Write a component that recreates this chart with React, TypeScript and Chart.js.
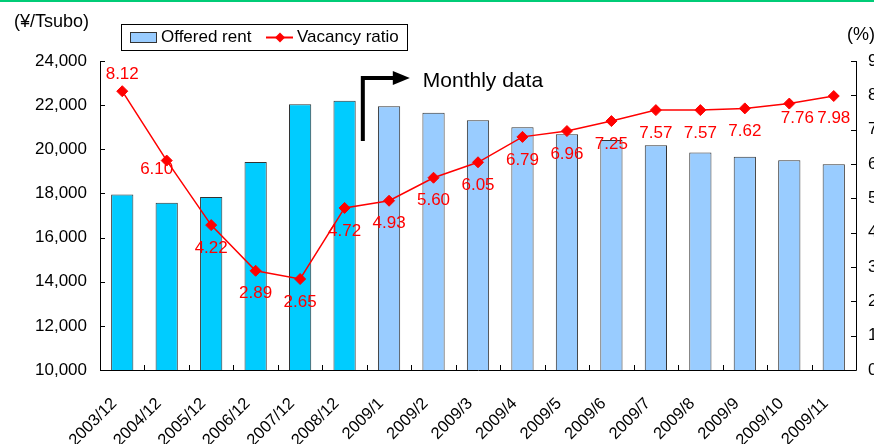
import React, { useEffect, useRef } from "react";
import { Chart, registerables } from "chart.js";

Chart.register(...registerables);

const categories = [
  "2003/12", "2004/12", "2005/12", "2006/12", "2007/12", "2008/12",
  "2009/1", "2009/2", "2009/3", "2009/4", "2009/5", "2009/6",
  "2009/7", "2009/8", "2009/9", "2009/10", "2009/11",
];
const offeredRent = [
  17950, 17580, 17840, 19420, 22040, 22200,
  21950, 21660, 21310, 21000, 20680, 20420,
  20180, 19860, 19660, 19500, 19320,
];
const vacancyRatio = [
  8.12, 6.10, 4.22, 2.89, 2.65, 4.72,
  4.93, 5.60, 6.05, 6.79, 6.96, 7.25,
  7.57, 7.57, 7.62, 7.76, 7.98,
];
const annualCount = 6;
const leftTicks = [10000, 12000, 14000, 16000, 18000, 20000, 22000, 24000];
const rightTicks = [0, 1, 2, 3, 4, 5, 6, 7, 8, 9];

// label placement (style): offsets relative to each point
const labelOffsets: [number, number][] = vacancyRatio.map((_, i) => {
  if (i === 0) return [0, -17];
  if (i === 1) return [-10, 9];
  if (i === 15) return [8, 15];
  if (i === 16) return [0, 22];
  return [0, 23];
});

const FONT = "'Liberation Sans', Arial, sans-serif";

const decorPlugin = {
  id: "decor",
  afterDatasetsDraw(chart: any) {
    const ctx = chart.ctx;
    ctx.save();
    const meta = chart.getDatasetMeta(1);
    ctx.fillStyle = "#FF0000";
    ctx.font = `17px ${FONT}`;
    ctx.textAlign = "center";
    ctx.textBaseline = "middle";
    meta.data.forEach((pt: any, i: number) => {
      const [dx, dy] = labelOffsets[i];
      ctx.fillText(vacancyRatio[i].toFixed(2), pt.x + dx, pt.y + dy);
    });
    ctx.restore();
  },
  afterDraw(chart: any) {
    const ctx = chart.ctx;
    const area = chart.chartArea;
    const xs = chart.scales.x;
    const yl = chart.scales.y;
    const yr = chart.scales.y1;
    ctx.save();
    // green top line
    ctx.fillStyle = "#00CC77";
    ctx.fillRect(0, 0, chart.width, 2);

    // axes
    ctx.strokeStyle = "#000";
    ctx.lineWidth = 1;
    ctx.beginPath();
    ctx.moveTo(Math.round(area.left) + 0.5, area.top);
    ctx.lineTo(Math.round(area.left) + 0.5, Math.round(area.bottom) + 0.5);
    ctx.lineTo(Math.round(area.right) + 0.5, Math.round(area.bottom) + 0.5);
    ctx.lineTo(Math.round(area.right) + 0.5, area.top);
    ctx.stroke();
    // tick marks (inward)
    ctx.beginPath();
    leftTicks.forEach((v) => {
      const y = Math.round(yl.getPixelForValue(v)) + 0.5;
      ctx.moveTo(area.left, y);
      ctx.lineTo(area.left + 5, y);
    });
    rightTicks.forEach((v) => {
      const y = Math.round(yr.getPixelForValue(v)) + 0.5;
      ctx.moveTo(area.right, y);
      ctx.lineTo(area.right - 5, y);
    });
    for (let i = 1; i < categories.length; i++) {
      const x = Math.round((xs.getPixelForValue(i - 1) + xs.getPixelForValue(i)) / 2) + 0.5;
      ctx.moveTo(x, area.bottom);
      ctx.lineTo(x, area.bottom - 5);
    }
    ctx.stroke();

    // right axis tick labels (run off the canvas edge like the original)
    ctx.fillStyle = "#000";
    ctx.font = `17px ${FONT}`;
    ctx.textAlign = "left";
    ctx.textBaseline = "middle";
    rightTicks.forEach((v) => {
      ctx.fillText(String(v), area.right + 12, yr.getPixelForValue(v));
    });

    // x category labels, rotated 45°
    ctx.font = `16.5px ${FONT}`;
    ctx.textAlign = "right";
    ctx.textBaseline = "middle";
    categories.forEach((c, i) => {
      const x = xs.getPixelForValue(i);
      ctx.save();
      ctx.translate(x - 8, area.bottom + 31);
      ctx.rotate(-Math.PI / 4);
      ctx.fillText(c, 0, 0);
      ctx.restore();
    });

    // axis unit titles
    ctx.font = `18px ${FONT}`;
    ctx.textAlign = "left";
    ctx.textBaseline = "middle";
    ctx.fillText("(¥/Tsubo)", 14, 22);
    ctx.fillText("(%)", 847, 35);

    // legend
    ctx.fillStyle = "#fff";
    ctx.fillRect(121, 24, 286, 26);
    ctx.strokeStyle = "#000";
    ctx.lineWidth = 1;
    ctx.strokeRect(121.5, 24.5, 286, 26);
    ctx.fillStyle = "#99CCFF";
    ctx.fillRect(130, 32, 26, 10);
    ctx.strokeStyle = "#333";
    ctx.strokeRect(130.5, 32.5, 26, 10);
    ctx.fillStyle = "#000";
    ctx.font = `17px ${FONT}`;
    ctx.fillText("Offered rent", 161, 37.5);
    ctx.strokeStyle = "#FF0000";
    ctx.lineWidth = 2;
    ctx.beginPath();
    ctx.moveTo(266, 37.5);
    ctx.lineTo(293, 37.5);
    ctx.stroke();
    ctx.fillStyle = "#FF0000";
    ctx.beginPath();
    ctx.moveTo(280, 32.5);
    ctx.lineTo(285, 37.5);
    ctx.lineTo(280, 42.5);
    ctx.lineTo(275, 37.5);
    ctx.closePath();
    ctx.fill();
    ctx.fillStyle = "#000";
    ctx.fillText("Vacancy ratio", 297, 37.5);

    // "Monthly data" arrow between annual and monthly sections
    const bx = (xs.getPixelForValue(annualCount - 1) + xs.getPixelForValue(annualCount)) / 2 - 4;
    const yTop = yl.getPixelForValue(23230);
    const yBot = yl.getPixelForValue(20380);
    ctx.strokeStyle = "#000";
    ctx.lineWidth = 4;
    ctx.beginPath();
    ctx.moveTo(bx, yBot);
    ctx.lineTo(bx, yTop);
    ctx.lineTo(bx + 32, yTop);
    ctx.stroke();
    ctx.fillStyle = "#000";
    ctx.beginPath();
    ctx.moveTo(bx + 30, yTop - 7);
    ctx.lineTo(bx + 47, yTop);
    ctx.lineTo(bx + 30, yTop + 7);
    ctx.closePath();
    ctx.fill();
    ctx.font = `21px ${FONT}`;
    ctx.textAlign = "left";
    ctx.textBaseline = "middle";
    ctx.fillText("Monthly data", bx + 60, yTop + 3);
    ctx.restore();
  },
};

export default function App() {
  const ref = useRef<HTMLCanvasElement | null>(null);
  useEffect(() => {
    document.body.style.margin = "0";
    const canvas = ref.current!;
    const chart = new Chart(canvas, {
      type: "bar",
      data: {
        labels: categories,
        datasets: [
          {
            type: "bar",
            label: "Offered rent",
            data: offeredRent,
            yAxisID: "y",
            backgroundColor: offeredRent.map((_, i) => (i < annualCount ? "#00CCFF" : "#99CCFF")),
            borderColor: "#333333",
            borderWidth: 1,
            barPercentage: 0.5,
            categoryPercentage: 1,
            order: 2,
          },
          {
            type: "line",
            label: "Vacancy ratio",
            data: vacancyRatio,
            yAxisID: "y1",
            borderColor: "#FF0000",
            backgroundColor: "#FF0000",
            borderWidth: 1.5,
            pointStyle: "rectRot",
            pointRadius: 5.5,
            pointBorderWidth: 1,
            tension: 0,
            order: 1,
          },
        ],
      },
      options: {
        responsive: false,
        animation: false,
        devicePixelRatio: 1,
        layout: { padding: { top: 61, left: 0, right: 0, bottom: 0 } },
        plugins: { legend: { display: false }, tooltip: { enabled: false } },
        scales: {
          x: {
            grid: { display: false, drawTicks: false },
            border: { display: false },
            ticks: { display: false, autoSkip: false },
            afterFit: (s: any) => { s.height = 74; },
          },
          y: {
            position: "left",
            min: 10000,
            max: 24000,
            grid: { display: false, drawTicks: false },
            border: { display: false },
            ticks: {
              stepSize: 2000,
              color: "#000",
              padding: 13,
              font: { family: FONT, size: 17 },
              callback: (v: any) => Number(v).toLocaleString("en-US"),
            },
            afterFit: (s: any) => { s.width = 100; },
          },
          y1: {
            position: "right",
            min: 0,
            max: 9,
            grid: { display: false, drawTicks: false },
            border: { display: false },
            ticks: { display: false, stepSize: 1 },
            afterFit: (s: any) => { s.width = 18; },
          },
        },
      },
      plugins: [decorPlugin],
    });
    return () => chart.destroy();
  }, []);
  return (
    <div style={{ width: 874, height: 444, background: "#fff" }}>
      <canvas ref={ref} width={874} height={444} style={{ display: "block" }} />
    </div>
  );
}
